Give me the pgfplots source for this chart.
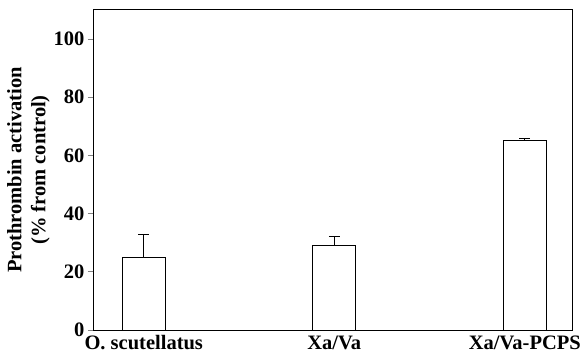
\documentclass[border=0pt]{standalone}
\usepackage{fontspec}
\setmainfont{Liberation Serif}
\usepackage{pgfplots}
\pgfplotsset{compat=1.18}
\begin{document}
\begin{tikzpicture}
\begin{axis}[
 scale only axis, width=479pt, height=320pt,
 xmin=-0.261, xmax=2.253, ymin=0, ymax=110,
 xtick={0,1,2}, xticklabels={O. scutellatus, Xa/Va, Xa/Va-PCPS},
 x tick style={draw=none},
 ytick={0,20,...,100},
 ytick pos=left, tick align=outside, major tick length=6pt,
 y tick style={line width=0.9pt},
 axis line style={line width=1pt},
 ticklabel style={font=\fontsize{20.5}{23}\selectfont\bfseries},
 xticklabel style={anchor=base, yshift=-13pt},
 /pgf/number format/assume math mode=true,
 ylabel={Prothrombin activation\\(\% from control)},
 every axis y label/.style={at={(axis description cs:-0.0919,0.5)}, rotate=90, anchor=south, inner sep=0pt,
   align=center, font=\fontsize{20.5}{24}\selectfont\bfseries},
]
\addplot[ybar, bar width=43pt, fill=white, draw=black, line width=0.9pt,
 error bars/.cd, y dir=plus, y explicit,
 error bar style={line width=0.9pt},
 error mark options={rotate=90, mark size=5.5pt, line width=0.9pt}]
 coordinates {(0,25) +- (0,8) (1,29) +- (0,3) (2,65) +- (0,1)};
\end{axis}
\pgfresetboundingbox
\path[use as bounding box] ([xshift=-94pt,yshift=-24pt]current axis.south west) rectangle ([xshift=11pt,yshift=10pt]current axis.north east);
\end{tikzpicture}
\end{document}
